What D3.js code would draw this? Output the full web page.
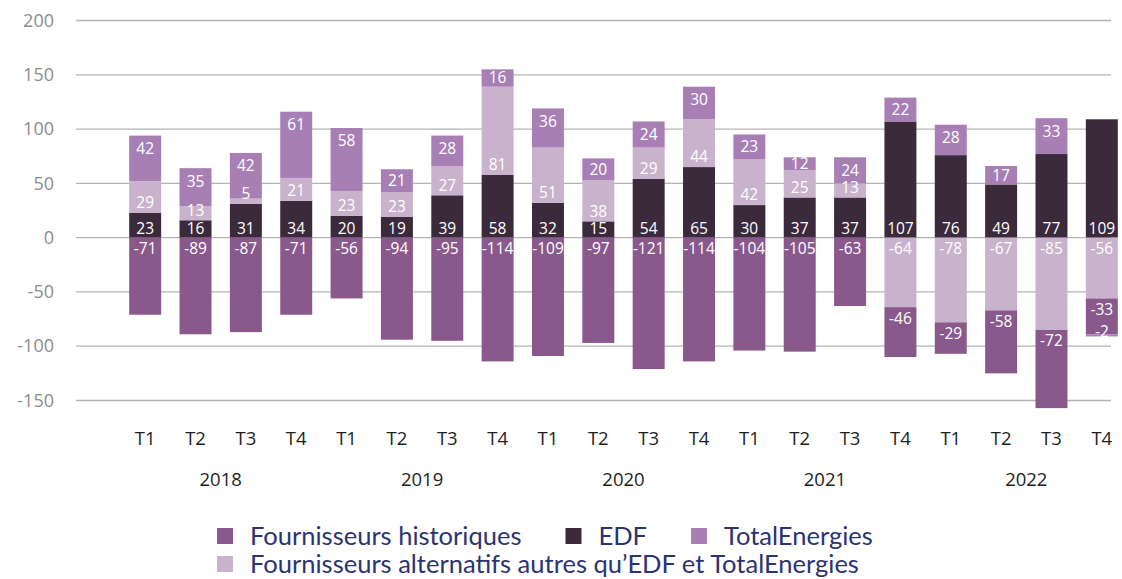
<!DOCTYPE html>
<html>
<head>
	<meta charset="utf-8">
	<script src="https://d3js.org/d3.v7.min.js"></script>
	<style>
		body { margin: 0; background: #fff; }
	</style>
</head>
<body>
<svg id="container"></svg>
<script>
// data
let years = ['2018', '2019', '2020', '2021', '2022'];
let quarters = ['T1', 'T2', 'T3', 'T4'];

let edf = [23, 16, 31, 34, 20, 19, 39, 58, 32, 15, 54, 65, 30, 37, 37, 107, 76, 49, 77, 109];
let alternatifs = [29, 13, 5, 21, 23, 23, 27, 81, 51, 38, 29, 44, 42, 25, 13, -64, -78, -67, -85, -56];
let historiques = [-71, -89, -87, -71, -56, -94, -95, -114, -109, -97, -121, -114, -104, -105, -63, -46, -29, -58, -72, -33];
let totalEnergies = [42, 35, 42, 61, 58, 21, 28, 16, 36, 20, 24, 30, 23, 12, 24, 22, 28, 17, 33, -2];

let yTicks = [-150, -100, -50, 0, 50, 100, 150, 200];

let series = [
	{key: 'edf', name: 'EDF', color: '#3a2a3c', values: edf},
	{key: 'alt', name: 'Fournisseurs alternatifs autres qu\u2019EDF et TotalEnergies', color: '#c9b2cb', values: alternatifs},
	{key: 'hist', name: 'Fournisseurs historiques', color: '#89598c', values: historiques},
	{key: 'te', name: 'TotalEnergies', color: '#a87fb5', values: totalEnergies}
];
</script>
<script>
let width = 1122, height = 579;
let svg = d3.select('#container')
	.attr('width', width)
	.attr('height', height);

let periods = [];
years.forEach(y => quarters.forEach(q => periods.push({year: y, q: q, id: y + q})));

let table = periods.map((p, i) => {
	let row = {id: p.id};
	series.forEach(s => { row[s.key] = s.values[i]; });
	return row;
});

let stack = d3.stack()
	.keys(series.map(s => s.key))
	.offset(d3.stackOffsetDiverging);
let layers = stack(table);

let x = d3.scaleBand()
	.domain(periods.map(p => p.id))
	.range([120, 1127])
	.paddingInner(0.365)
	.paddingOuter(0.1825);

let y = d3.scaleLinear()
	.domain([-150, 200])
	.range([400.5, 20.5]);

// grid
let grid = svg.append('g').attr('class', 'grid');
grid.selectAll('line')
	.data(yTicks)
	.join('line')
	.attr('x1', 76)
	.attr('x2', 1111)
	.attr('y1', d => y(d))
	.attr('y2', d => y(d))
	.attr('stroke', '#b4b4b4')
	.attr('stroke-width', 1.3);

// y axis labels
let yAxis = svg.append('g')
	.attr('transform', 'translate(54,0)')
	.call(d3.axisLeft(y).tickValues(yTicks).tickSize(0).tickPadding(0).tickFormat(d => String(d)));
yAxis.select('.domain').remove();
yAxis.selectAll('text')
	.attr('fill', '#8c8c8c')
	.style('font-family', '"Open Sans", sans-serif')
	.style('font-size', '18px');

// bars
let colorOf = {};
series.forEach(s => { colorOf[s.key] = s.color; });

let layerG = svg.append('g').selectAll('g')
	.data(layers)
	.join('g')
	.attr('fill', d => colorOf[d.key]);

layerG.selectAll('rect')
	.data(d => d.filter(v => v[1] !== v[0]))
	.join('rect')
	.attr('x', d => x(d.data.id))
	.attr('width', x.bandwidth())
	.attr('y', d => y(Math.max(d[0], d[1])))
	.attr('height', d => Math.abs(y(d[0]) - y(d[1])));

// labels
let labelY = function(key, d) {
	let lo = Math.min(d[0], d[1]), hi = Math.max(d[0], d[1]);
	let val = d.data[key];
	let top = y(hi), bottom = y(lo);
	if (val < 0) {
		// negative: the edge nearest zero is the top one
		return Math.min(top + 11, bottom - 5);
	}
	if (key === 'edf') return bottom - 9;
	if (key === 'alt') return bottom - 10;
	return Math.min((top + bottom) / 2, top + 13);
};

let labelG = svg.append('g')
	.style('font-family', '"Open Sans", sans-serif')
	.style('font-size', '15.5px')
	.attr('fill', '#ffffff')
	.attr('text-anchor', 'middle');

layers.forEach(layer => {
	labelG.append('g').selectAll('text')
		.data(layer.filter(v => v[1] !== v[0]))
		.join('text')
		.attr('x', d => x(d.data.id) + x.bandwidth() / 2)
		.attr('y', d => labelY(layer.key, d))
		.attr('dy', '0.35em')
		.text(d => String(d.data[layer.key]));
});

// x axis
let xAxis = svg.append('g')
	.attr('transform', 'translate(0,432)')
	.call(d3.axisBottom(x).tickSize(0).tickPadding(0).tickFormat(id => id.slice(4)));
xAxis.select('.domain').remove();
xAxis.selectAll('text')
	.attr('fill', '#1e1e1e')
	.style('font-family', '"Open Sans", sans-serif')
	.style('font-size', '18.5px');

svg.append('g').selectAll('text')
	.data(years)
	.join('text')
	.attr('x', yr => (x(yr + 'T2') + x(yr + 'T3') + x.bandwidth()) / 2)
	.attr('y', 480)
	.attr('dy', '0.35em')
	.attr('text-anchor', 'middle')
	.attr('fill', '#1e1e1e')
	.style('font-family', '"Open Sans", sans-serif')
	.style('font-size', '18.5px')
	.text(yr => yr);

// legend
let legendRows = [['hist', 'edf', 'te'], ['alt']];
let legend = svg.append('g')
	.style('font-family', 'Lato, sans-serif')
	.style('font-size', '25.5px');

legendRows.forEach((row, ri) => {
	let cx = 217;
	let cy = 536 + ri * 28;
	row.forEach(key => {
		let s = series.find(d => d.key === key);
		legend.append('rect')
			.attr('x', cx)
			.attr('y', cy - 8)
			.attr('width', 16)
			.attr('height', 16)
			.attr('fill', s.color);
		let t = legend.append('text')
			.attr('x', cx + 33)
			.attr('y', cy)
			.attr('dy', '0.35em')
			.attr('fill', '#2c3372')
			.text(s.name);
		cx = cx + 33 + t.node().getComputedTextLength() + 44;
	});
});
</script>
</body>
</html>
